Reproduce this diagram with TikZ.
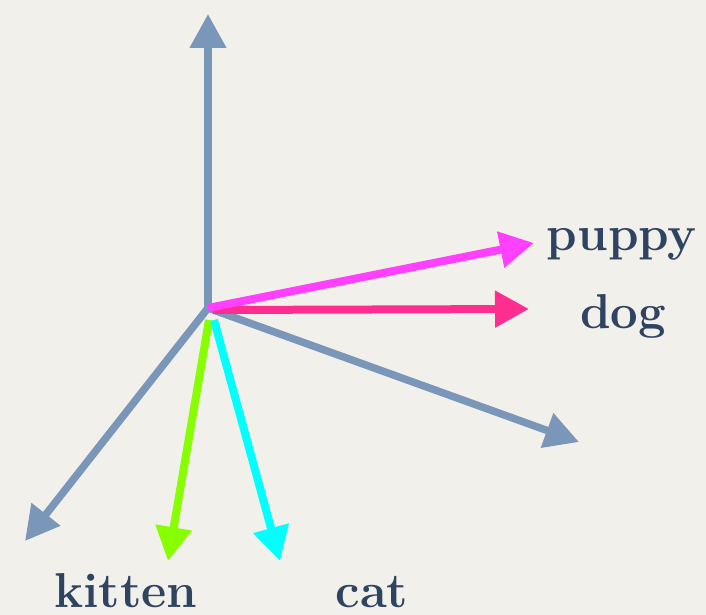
\documentclass[tikz,border=0pt]{standalone}
\usepackage{tikz}
\usetikzlibrary{arrows.meta}

\definecolor{paper}{HTML}{F2F0EB}
\definecolor{axisblue}{HTML}{7A96B8}
\definecolor{wordink}{HTML}{2E4460}
\definecolor{puppycol}{HTML}{FF40FF}
\definecolor{dogcol}{HTML}{FF2D8F}
\definecolor{kittencol}{HTML}{88FF00}
\definecolor{catcol}{HTML}{00FFFF}

\begin{document}
\begin{tikzpicture}[
			x=1pt, y=-1pt,
			>={Triangle[length=34pt,width=35pt]},
			axis/.style={->, line width=7.5pt, draw=axisblue, fill=axisblue},
			wordvec/.style={->, line width=8pt},
			word/.style={
					anchor=base,
					text=wordink,
					font=\fontsize{49}{53}\selectfont\bfseries,
					inner sep=0pt
				}
		]

		\fill[paper] (0,0) rectangle (706,615);
		\useasboundingbox (0,0) rectangle (706,615);

		% origin and tips
		\coordinate (o) at (208,308);
		\coordinate (dogstart) at (213,310);
		\coordinate (kittenstart) at (209,320);
		\coordinate (catstart) at (214,320);

		\coordinate (up) at (208,14);
		\coordinate (left) at (25,541);
		\coordinate (right) at (579,442);

		\coordinate (puppytip) at (534,243);
		\coordinate (dogtip) at (529,309);
		\coordinate (kittentip) at (168,561);
		\coordinate (cattip) at (280,561);

		% labels
		\node[word] (puppy) at (622,250) {puppy};
		\node[word] (dog) at (623,328) {dog};
		\node[word] (kitten) at (126,607) {kitten};
		\node[word] (cat) at (372,607) {cat};

		% axes
		\draw[axis] (o) -- (up);
		\draw[axis] (o) -- (left);
		\draw[axis] (o) -- (right);

		% word vectors
		\draw[wordvec, draw=kittencol, fill=kittencol] (kittenstart) -- (kittentip);
		\draw[wordvec, draw=catcol, fill=catcol] (catstart) -- (cattip);
		\draw[wordvec, draw=dogcol, fill=dogcol] (dogstart) -- (dogtip);
		\draw[wordvec, draw=puppycol, fill=puppycol] (o) -- (puppytip);

	\end{tikzpicture}
\end{document}
